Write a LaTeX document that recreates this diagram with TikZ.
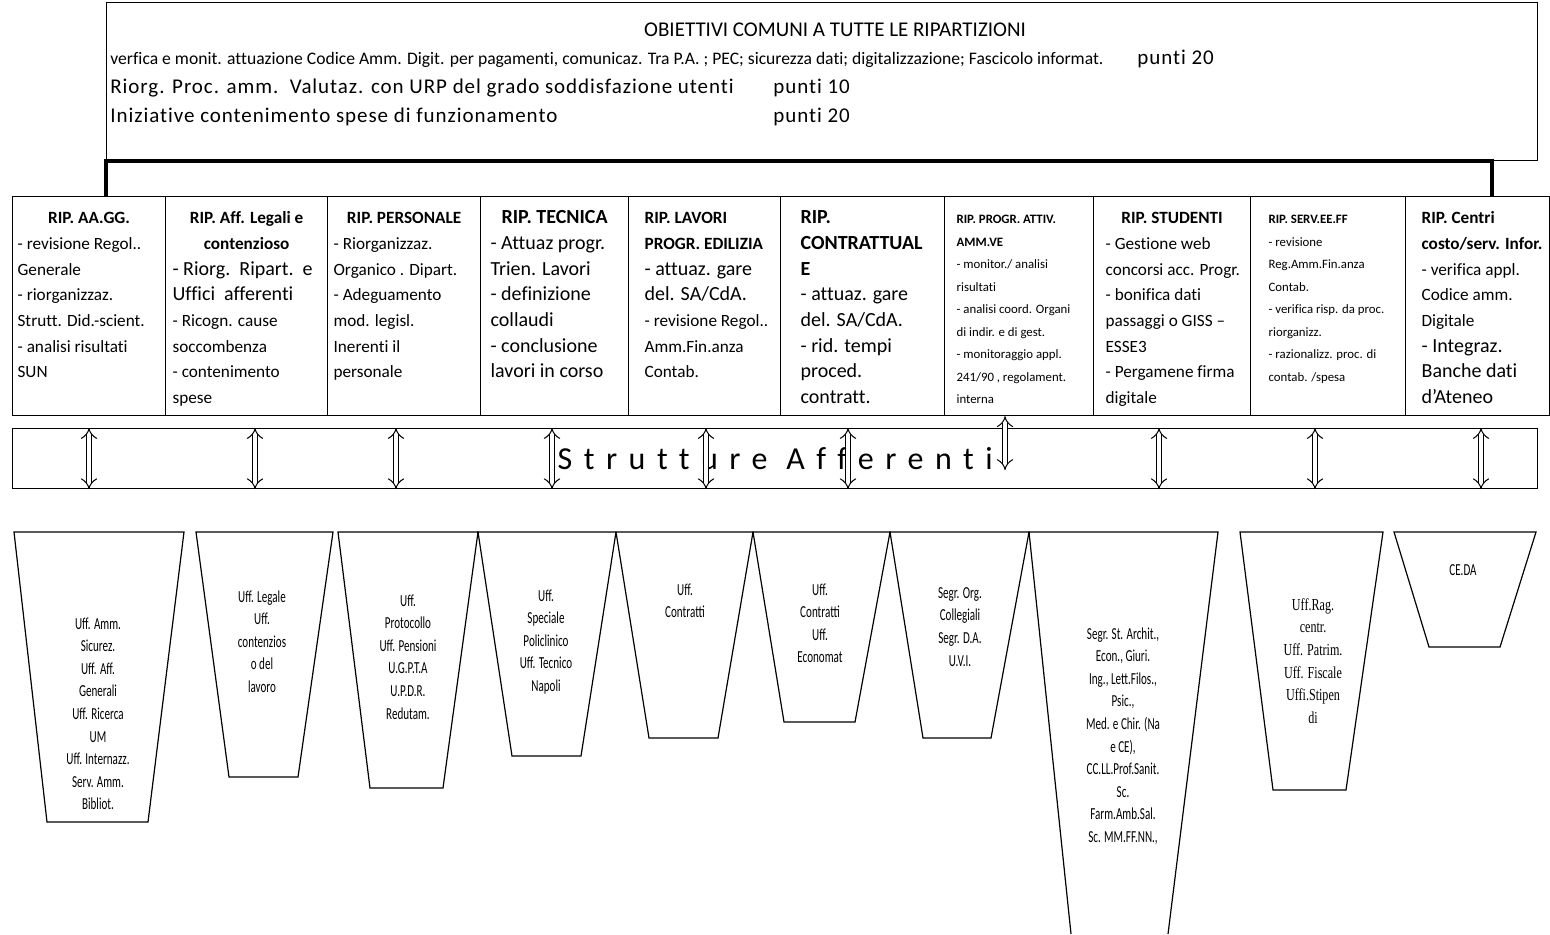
\documentclass[tikz,border=0pt]{standalone}
\usepackage{fontspec}
\setmainfont[Ligatures={TeX,NoCommon}]{Carlito}
\newfontfamily\objfont[LetterSpace=4.5, Ligatures={TeX,NoCommon}]{Carlito}
\newfontfamily\narrowfont[FakeStretch=0.66]{Carlito}
\newfontfamily\narrowserif[FakeStretch=0.72]{Liberation Serif}
\newfontfamily\spacedfont[LetterSpace=36, Ligatures=NoCommon]{Carlito}
\usetikzlibrary{arrows.meta}

\newcommand{\ripfont}{\fontsize{8.6}{12.85}\selectfont}
\newcommand{\ripbig}{\fontsize{10}{12.85}\selectfont}
\newcommand{\ripsmall}{\fontsize{6.4}{11.25}\selectfont}
\newcommand{\riptitle}[1]{{\centering\bfseries #1\par}}

\begin{document}
\begin{tikzpicture}[x=0.5pt, y=-0.5pt,
    ripbox/.style={draw, line width=0.6pt, anchor=north west, align=flush left, inner xsep=0pt, inner ysep=0pt,
        text height=13.5pt, text depth=96pt, font=\ripfont},
    uffbox/.style={draw, line width=0.6pt},
    ufftext/.style={anchor=north, align=center, inner sep=0pt, font=\narrowfont\fontsize{8.4}{11.3}\selectfont},
    objtext/.style={anchor=base west, inner sep=0pt, font=\objfont\fontsize{10.5}{12}\selectfont},
    bar/.style={line width=2pt},
    darrow/.style={double, double distance=2.4pt, line width=0.5pt, Implies-Implies}]
\useasboundingbox (0,0) rectangle (1550,934);

% obiettivi comuni
\node[draw, line width=0.6pt, anchor=north west, minimum width=715.5pt, minimum height=79pt, inner sep=0pt] (obj) at (106,2) {};
\node[anchor=base, inner sep=0pt, font=\fontsize{10.5}{12}\selectfont] (objtit) at (835,36) {OBIETTIVI COMUNI A TUTTE LE RIPARTIZIONI};
\node[objtext, font=\fontsize{8.8}{10}\selectfont] (obj1) at (110,64) {verfica e monit. attuazione Codice Amm. Digit. per pagamenti, comunicaz. Tra P.A. ; PEC; sicurezza dati; digitalizzazione; Fascicolo informat.};
\node[objtext] (pt1) at (1137,64) {punti 20};
\node[objtext] (obj2) at (110,93) {Riorg. Proc. amm.\ \ Valutaz. con URP del grado soddisfazione utenti};
\node[objtext] (pt2) at (773,93) {punti 10};
\node[objtext] (obj3) at (110,122) {Iniziative contenimento spese di funzionamento};
\node[objtext] (pt3) at (773,122) {punti 20};

% ripartizioni
\node[ripbox, text width=76.5pt] (aagg) at (12,196) {\riptitle{RIP. AA.GG.}\leftskip=2.5pt
    - revisione Regol..\\Generale\\- riorganizzaz.\\Strutt. Did.-scient.\\- analisi risultati\\SUN\par};
\node[ripbox, text width=81pt] (legali) at (165,196) {\riptitle{RIP. Aff. Legali e\\contenzioso}\leftskip=3.5pt
    {\ripbig - Riorg.\ \ Ripart.\ \ e}\\{\ripbig Uffici\ \ afferenti}\\- Ricogn. cause\\soccombenza\\- contenimento\\spese\par};
\node[ripbox, text width=76.5pt] (personale) at (327,196) {\riptitle{RIP. PERSONALE}\leftskip=3pt
    - Riorganizzaz.\\Organico . Dipart.\\- Adeguamento\\mod. legisl.\\Inerenti il\\personale\par};
\node[ripbox, text width=74pt] (tecnica) at (480,196) {\riptitle{\ripbig RIP. TECNICA}\leftskip=5pt\ripbig
    - Attuaz progr.\\Trien. Lavori\\- definizione\\collaudi\\- conclusione\\lavori in corso\par};
\node[ripbox, text width=76pt] (lavori) at (628,196) {\leftskip=8pt\textbf{RIP. LAVORI}\\\textbf{PROGR. EDILIZIA}\\
    {\ripbig - attuaz. gare}\\{\ripbig del. SA/CdA.}\\- revisione Regol..\\Amm.Fin.anza\\Contab.\par};
\node[ripbox, text width=82pt] (contratt) at (780,196) {\leftskip=10pt\ripbig\textbf{RIP.}\\\textbf{CONTRATTUAL}\\\textbf{E}\\
    - attuaz. gare\\del. SA/CdA.\\- rid. tempi\\proced.\\contratt.\par};
\node[ripbox, text width=74.5pt] (progr) at (944,196) {\ripsmall\leftskip=6pt\textbf{RIP. PROGR. ATTIV.}\\\textbf{AMM.VE}\\
    - monitor./ analisi\\risultati\\- analisi coord. Organi\\di indir. e di gest.\\- monitoraggio appl.\\241/90 , regolament.\\interna\par};
\node[ripbox, text width=78.5pt] (studenti) at (1093,196) {\riptitle{RIP. STUDENTI}\leftskip=6pt
    - Gestione web\\concorsi acc. Progr.\\- bonifica dati\\passaggi o GISS --\\ESSE3\\- Pergamene firma\\digitale\par};
\node[ripbox, text width=77.5pt] (servff) at (1250,196) {\ripsmall\leftskip=9pt\textbf{RIP. SERV.EE.FF}\\
    - revisione\\Reg.Amm.Fin.anza\\Contab.\\- verifica risp. da proc.\\riorganizz.\\- razionalizz. proc. di\\contab. /spesa\par};
\node[ripbox, text width=72pt] (centri) at (1405,196) {\leftskip=8pt\textbf{RIP. Centri}\\\textbf{costo/serv. Infor.}\\
    - verifica appl.\\Codice amm.\\Digitale\\{\ripbig - Integraz.}\\{\ripbig Banche dati}\\{\ripbig d'Ateneo}\par};

% collegamento
\coordinate (jl) at (106,196);
\coordinate (jr) at (1492,196);
\draw[bar] (jl) |- (obj.south -| jr) -- (jr);

% strutture afferenti
\node[draw, line width=0.6pt, anchor=north west, minimum width=762.5pt, minimum height=30pt, inner sep=0pt,
    font=\spacedfont\fontsize{16}{18}\selectfont] (strutt) at (12,428) {Strutture Afferenti};
\foreach \ax in {89,255,396,552,706,848,1159,1315,1481}
    \draw[darrow] (strutt.north -| \ax,0) -- (strutt.south -| \ax,0);
\draw[darrow] (progr.south -| 1005,0) -- (1005,470);

% uffici
\draw[uffbox] (14,532) -- (184,532) -- (148,822) -- (47,822) -- cycle;
\draw[uffbox] (196,532) -- (333,532) -- (298,777) -- (229,777) -- cycle;
\draw[uffbox] (338,532) -- (478,532) -- (443,788) -- (370,788) -- cycle;
\draw[uffbox] (478,532) -- (616,532) -- (581,756) -- (512,756) -- cycle;
\draw[uffbox] (616,532) -- (753,532) -- (718,738) -- (649,738) -- cycle;
\draw[uffbox] (753,532) -- (890,532) -- (855,722) -- (784,722) -- cycle;
\draw[uffbox] (890,532) -- (1029,532) -- (991,738) -- (923,738) -- cycle;
\draw[uffbox] (1071,934) -- (1029,532) -- (1218,532) -- (1168,934);
\draw[uffbox] (1240,532) -- (1383,532) -- (1346,790) -- (1273,790) -- cycle;
\draw[uffbox] (1394,532) -- (1536,532) -- (1500,647) -- (1429,647) -- cycle;

\node[ufftext] (uff1) at (98,617) {Uff. Amm.\\Sicurez.\\Uff. Aff.\\Generali\\Uff. Ricerca\\UM\\Uff. Internazz.\\Serv. Amm.\\Bibliot.};
\node[ufftext] (uff2) at (262,590) {Uff. Legale\\Uff.\\contenzios\\o del\\lavoro};
\node[ufftext] (uff3) at (408,594) {Uff.\\Protocollo\\Uff. Pensioni\\U.G.P.T.A\\U.P.D.R.\\Redutam.};
\node[ufftext] (uff4) at (546,589) {Uff.\\Speciale\\Policlinico\\Uff. Tecnico\\Napoli};
\node[ufftext] (uff5) at (685,583) {Uff.\\Contratti};
\node[ufftext] (uff6) at (820,583) {Uff.\\Contratti\\Uff.\\Economat};
\node[ufftext] (uff7) at (960,587) {Segr. Org.\\Collegiali\\Segr. D.A.\\U.V.I.};
\node[ufftext] (uff8) at (1123,627) {Segr. St. Archit.,\\Econ., Giuri.\\Ing., Lett.Filos.,\\Psic.,\\Med. e Chir. (Na\\e CE),\\CC.LL.Prof.Sanit.\\Sc.\\Farm.Amb.Sal.\\Sc. MM.FF.NN.,};
\node[ufftext, font=\narrowserif\fontsize{8.4}{11.3}\selectfont] (uff9) at (1313,598) {Uff.Rag.\\centr.\\Uff. Patrim.\\Uff. Fiscale\\Uffi.Stipen\\di};
\node[ufftext] (uff10) at (1463,564) {CE.DA};
\end{tikzpicture}
\end{document}
